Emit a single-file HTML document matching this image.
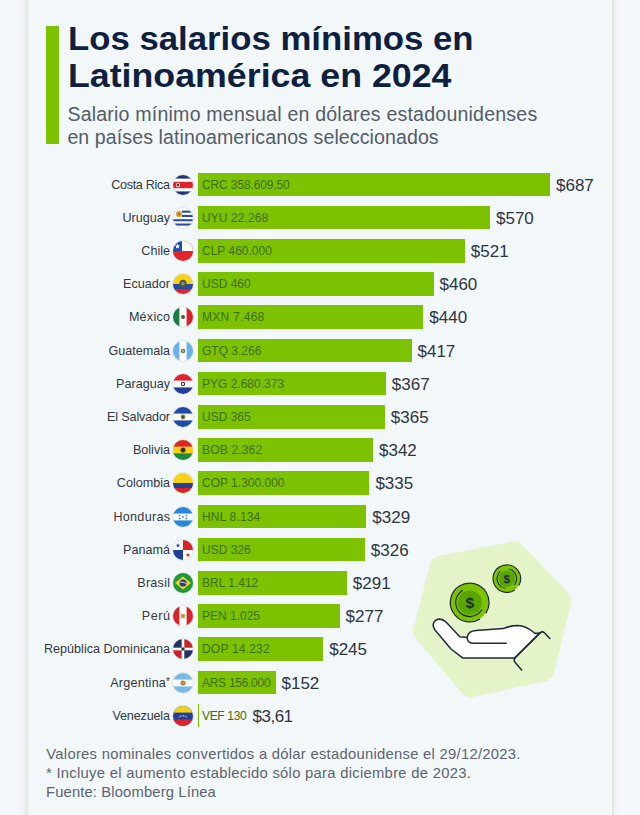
<!DOCTYPE html>
<html lang="es"><head><meta charset="utf-8"><title>Los salarios mínimos en Latinoamérica en 2024</title>
<style>
html,body{margin:0;padding:0}
body{width:640px;height:815px;overflow:hidden;position:relative;background:#f5f9fe;font-family:"Liberation Sans",sans-serif;color:#3a4048}
.card{position:absolute;left:28px;top:0;width:584px;height:815px;background:#f2f7fa}
.el{position:absolute;left:17px;top:0;width:11px;height:815px;background:linear-gradient(90deg,rgba(240,244,247,0) 0,#eef2f5 72%,#e2e7ea 82%,#e2e7ea 100%)}
.er{position:absolute;left:612px;top:0;width:9px;height:815px;background:linear-gradient(90deg,#e0e4e8 0,#e3e7ea 17%,#eef2f6 30%,rgba(245,249,254,0) 100%)}
.accent{position:absolute;left:46px;top:26px;width:13px;height:118px;background:#7cc200}
.t{position:absolute;left:68px;margin:0;font-size:33px;line-height:38px;height:38px;font-weight:700;color:#0f1f3f;white-space:nowrap;transform-origin:0 0}
.sub{position:absolute;margin:0;font-size:19.6px;line-height:22px;height:22px;color:#555c66;white-space:nowrap}
.lbl{position:absolute;right:470px;height:24px;line-height:25.6px;font-size:12.6px;white-space:nowrap;color:#33383f;text-align:right}
.lbl sup{font-size:10px;vertical-align:top;position:relative;top:-1px;line-height:24px}
.flag{position:absolute;left:173px;width:20px;height:20px;border-radius:50%;overflow:hidden;box-shadow:0 0 1.5px rgba(0,0,0,.35)}
.flag svg{display:block}
.bar{position:absolute;left:197.5px;height:23.7px;background:#7cc200}
.cur{position:absolute;left:202px;height:24px;line-height:25.8px;font-size:12px;color:#3c6e08;white-space:nowrap}
.val{position:absolute;height:24px;line-height:25.8px;font-size:17px;color:#2f353d;white-space:nowrap}
.foot{position:absolute;margin:0;font-size:14.8px;line-height:18px;height:18px;color:#5d646d;white-space:nowrap}
</style></head><body>
<div class="card"></div><div class="el"></div><div class="er"></div>
<div class="accent"></div>
<div class="t" id="t1" style="top:20.2px;transform:scaleX(1.053)">Los salarios mínimos en</div>
<div class="t" id="t2" style="top:57.3px;transform:scaleX(1.083)">Latinoamérica en 2024</div>
<div class="sub" style="left:67.4px;top:103.4px;letter-spacing:0.19px">Salario mínimo mensual en dólares estadounidenses</div>
<div class="sub" style="left:67.4px;top:126.1px;letter-spacing:0.08px">en países latinoamericanos seleccionados</div>

<div class="lbl" style="top:172.6px;letter-spacing:-0.311px;margin-right:0.311px">Costa Rica</div>
<div class="flag" style="top:174.6px"><svg width="20" height="20" viewBox="0 0 20 20"><rect width="20" height="20" fill="#fff"/><rect width="20" height="3.6" fill="#1c3578"/><rect y="16.4" width="20" height="3.6" fill="#1c3578"/><rect y="6.8" width="20" height="6.4" fill="#e0242b"/><ellipse cx="5" cy="10" rx="2.1" ry="2.3" fill="#fff"/><circle cx="5" cy="10" r="1.4" fill="#3a3a3a"/></svg></div>
<div class="bar" style="top:172.6px;width:352.5px"></div>
<div class="cur" style="top:172.6px;letter-spacing:-0.123px">CRC 358.609,50</div>
<div class="val" style="top:172.6px;left:556.0px;letter-spacing:0.000px">$687</div>
<div class="lbl" style="top:205.8px;letter-spacing:0.000px;margin-right:0.000px">Uruguay</div>
<div class="flag" style="top:207.8px"><svg width="20" height="20" viewBox="0 0 20 20"><rect width="20" height="20" fill="#fff"/><rect x="9" y="2.6" width="11" height="2.1" fill="#2a4aa0"/><rect x="9" y="6.9" width="11" height="2.1" fill="#2a4aa0"/><rect y="11.2" width="20" height="2.1" fill="#2a4aa0"/><rect y="15.5" width="20" height="2.1" fill="#2a4aa0"/><circle cx="6" cy="6" r="3.2" fill="#e0b040"/><circle cx="6" cy="6" r="1.8" fill="#b07a20"/></svg></div>
<div class="bar" style="top:205.8px;width:292.5px"></div>
<div class="cur" style="top:205.8px;letter-spacing:0.089px">UYU 22.268</div>
<div class="val" style="top:205.8px;left:496.0px;letter-spacing:0.000px">$570</div>
<div class="lbl" style="top:239.0px;letter-spacing:0.000px;margin-right:0.000px">Chile</div>
<div class="flag" style="top:241.0px"><svg width="20" height="20" viewBox="0 0 20 20"><rect width="20" height="20" fill="#e0242b"/><rect width="20" height="10" fill="#fff"/><rect width="9" height="10" fill="#1f4aa8"/><path d="M4.5 2.6l.8 1.9h2l-1.6 1.3.6 2-1.8-1.2-1.8 1.2.6-2L1.7 4.5h2z" fill="#fff"/></svg></div>
<div class="bar" style="top:239.0px;width:267.3px"></div>
<div class="cur" style="top:239.0px;letter-spacing:0.000px">CLP 460.000</div>
<div class="val" style="top:239.0px;left:470.8px;letter-spacing:0.000px">$521</div>
<div class="lbl" style="top:272.2px;letter-spacing:0.000px;margin-right:0.000px">Ecuador</div>
<div class="flag" style="top:274.2px"><svg width="20" height="20" viewBox="0 0 20 20"><rect width="20" height="20" fill="#f7d117"/><rect y="10" width="20" height="5" fill="#1f4aa8"/><rect y="15" width="20" height="5" fill="#e0242b"/><ellipse cx="10" cy="9.4" rx="3.6" ry="3.6" fill="#5c5a2c"/><ellipse cx="10" cy="9.6" rx="1.5" ry="1.7" fill="#6f9bb0"/></svg></div>
<div class="bar" style="top:272.2px;width:236.0px"></div>
<div class="cur" style="top:272.2px;letter-spacing:0.000px">USD 460</div>
<div class="val" style="top:272.2px;left:439.5px;letter-spacing:0.000px">$460</div>
<div class="lbl" style="top:305.4px;letter-spacing:0.240px;margin-right:-0.240px">México</div>
<div class="flag" style="top:307.4px"><svg width="20" height="20" viewBox="0 0 20 20"><rect width="20" height="20" fill="#fff"/><rect width="6.4" height="20" fill="#1b7a43"/><rect x="13.6" width="6.4" height="20" fill="#d8232a"/><circle cx="10" cy="10" r="2" fill="#6e4e2e"/></svg></div>
<div class="bar" style="top:305.4px;width:225.8px"></div>
<div class="cur" style="top:305.4px;letter-spacing:0.280px">MXN 7.468</div>
<div class="val" style="top:305.4px;left:429.3px;letter-spacing:0.000px">$440</div>
<div class="lbl" style="top:338.6px;letter-spacing:0.000px;margin-right:0.000px">Guatemala</div>
<div class="flag" style="top:340.6px"><svg width="20" height="20" viewBox="0 0 20 20"><rect width="20" height="20" fill="#fff"/><rect width="6.4" height="20" fill="#6bb0e6"/><rect x="13.6" width="6.4" height="20" fill="#6bb0e6"/><circle cx="10" cy="10" r="2.3" fill="#6a7a4a"/><circle cx="10" cy="10" r="1" fill="#c8c090"/></svg></div>
<div class="bar" style="top:338.6px;width:214.0px"></div>
<div class="cur" style="top:338.6px;letter-spacing:0.000px">GTQ 3.266</div>
<div class="val" style="top:338.6px;left:417.5px;letter-spacing:0.000px">$417</div>
<div class="lbl" style="top:371.8px;letter-spacing:0.000px;margin-right:0.000px">Paraguay</div>
<div class="flag" style="top:373.8px"><svg width="20" height="20" viewBox="0 0 20 20"><rect width="20" height="20" fill="#fff"/><rect width="20" height="6.6" fill="#e0242b"/><rect y="13.4" width="20" height="6.6" fill="#1f3f98"/><circle cx="10" cy="10" r="2.2" fill="#333"/><circle cx="10" cy="10" r="1.2" fill="#e8e0a0"/></svg></div>
<div class="bar" style="top:371.8px;width:188.3px"></div>
<div class="cur" style="top:371.8px;letter-spacing:0.000px">PYG 2.680.373</div>
<div class="val" style="top:371.8px;left:391.8px;letter-spacing:0.000px">$367</div>
<div class="lbl" style="top:405.0px;letter-spacing:-0.140px;margin-right:0.140px">El Salvador</div>
<div class="flag" style="top:407.0px"><svg width="20" height="20" viewBox="0 0 20 20"><rect width="20" height="20" fill="#fff"/><rect width="20" height="6.6" fill="#1f4aa8"/><rect y="13.4" width="20" height="6.6" fill="#1f4aa8"/><circle cx="10" cy="10" r="2.4" fill="#8a8040"/><circle cx="10" cy="10" r="1.2" fill="#3a4a3a"/></svg></div>
<div class="bar" style="top:405.0px;width:187.3px"></div>
<div class="cur" style="top:405.0px;letter-spacing:0.000px">USD 365</div>
<div class="val" style="top:405.0px;left:390.8px;letter-spacing:0.000px">$365</div>
<div class="lbl" style="top:438.2px;letter-spacing:0.000px;margin-right:0.000px">Bolivia</div>
<div class="flag" style="top:440.2px"><svg width="20" height="20" viewBox="0 0 20 20"><rect width="20" height="20" fill="#f7d117"/><rect width="20" height="6.6" fill="#e0242b"/><rect y="13.4" width="20" height="6.6" fill="#1b8a3a"/><circle cx="10" cy="10" r="2.6" fill="#4a3a1a"/><circle cx="10" cy="10" r="1.2" fill="#2a2a1a"/></svg></div>
<div class="bar" style="top:438.2px;width:175.5px"></div>
<div class="cur" style="top:438.2px;letter-spacing:0.180px">BOB 2.362</div>
<div class="val" style="top:438.2px;left:379.0px;letter-spacing:0.000px">$342</div>
<div class="lbl" style="top:471.4px;letter-spacing:0.000px;margin-right:0.000px">Colombia</div>
<div class="flag" style="top:473.4px"><svg width="20" height="20" viewBox="0 0 20 20"><rect width="20" height="20" fill="#f7d117"/><rect y="10" width="20" height="5" fill="#1f3f98"/><rect y="15" width="20" height="5" fill="#d8232a"/></svg></div>
<div class="bar" style="top:471.4px;width:171.9px"></div>
<div class="cur" style="top:471.4px;letter-spacing:0.000px">COP 1.300.000</div>
<div class="val" style="top:471.4px;left:375.4px;letter-spacing:0.000px">$335</div>
<div class="lbl" style="top:504.6px;letter-spacing:0.286px;margin-right:-0.286px">Honduras</div>
<div class="flag" style="top:506.6px"><svg width="20" height="20" viewBox="0 0 20 20"><rect width="20" height="20" fill="#fff"/><rect width="20" height="6.6" fill="#2a86d8"/><rect y="13.4" width="20" height="6.6" fill="#2a86d8"/><g fill="#2a86d8"><circle cx="10" cy="10" r=".9"/><circle cx="6.6" cy="8.6" r=".9"/><circle cx="13.4" cy="8.6" r=".9"/><circle cx="6.6" cy="11.6" r=".9"/><circle cx="13.4" cy="11.6" r=".9"/></g></svg></div>
<div class="bar" style="top:504.6px;width:168.8px"></div>
<div class="cur" style="top:504.6px;letter-spacing:0.170px">HNL 8.134</div>
<div class="val" style="top:504.6px;left:372.3px;letter-spacing:0.000px">$329</div>
<div class="lbl" style="top:537.8px;letter-spacing:0.000px;margin-right:0.000px">Panamá</div>
<div class="flag" style="top:539.8px"><svg width="20" height="20" viewBox="0 0 20 20"><rect width="20" height="20" fill="#fff"/><rect x="10" width="10" height="10" fill="#d8232a"/><rect y="10" width="10" height="10" fill="#1f3f98"/><path d="M5 3.2l.6 1.6h1.7l-1.4 1 .5 1.7L5 6.5l-1.4 1 .5-1.7-1.4-1h1.7z" fill="#1f3f98"/><path d="M15 12.6l.6 1.6h1.7l-1.4 1 .5 1.7-1.4-1-1.4 1 .5-1.7-1.4-1h1.7z" fill="#d8232a"/></svg></div>
<div class="bar" style="top:537.8px;width:167.3px"></div>
<div class="cur" style="top:537.8px;letter-spacing:0.000px">USD 326</div>
<div class="val" style="top:537.8px;left:370.8px;letter-spacing:0.000px">$326</div>
<div class="lbl" style="top:571.0px;letter-spacing:0.240px;margin-right:-0.240px">Brasil</div>
<div class="flag" style="top:573.0px"><svg width="20" height="20" viewBox="0 0 20 20"><rect width="20" height="20" fill="#1f9a3a"/><path d="M10 3.4L18 10l-8 6.6L2 10z" fill="#f7d117"/><circle cx="10" cy="10" r="3.5" fill="#1f3f98"/><path d="M6.6 9.2c2.4-.5 4.8.2 6.8 1.6" stroke="#fff" stroke-width=".8" fill="none"/></svg></div>
<div class="bar" style="top:571.0px;width:149.3px"></div>
<div class="cur" style="top:571.0px;letter-spacing:0.000px">BRL 1.412</div>
<div class="val" style="top:571.0px;left:352.8px;letter-spacing:0.000px">$291</div>
<div class="lbl" style="top:604.2px;letter-spacing:0.533px;margin-right:-0.533px">Perú</div>
<div class="flag" style="top:606.2px"><svg width="20" height="20" viewBox="0 0 20 20"><rect width="20" height="20" fill="#fff"/><rect width="6.4" height="20" fill="#d8232a"/><rect x="13.6" width="6.4" height="20" fill="#d8232a"/><circle cx="10" cy="10" r="2.6" fill="#c8b86a"/><circle cx="10" cy="10" r="1.3" fill="#8a9a4a"/></svg></div>
<div class="bar" style="top:604.2px;width:142.1px"></div>
<div class="cur" style="top:604.2px;letter-spacing:0.000px">PEN 1.025</div>
<div class="val" style="top:604.2px;left:345.6px;letter-spacing:0.000px">$277</div>
<div class="lbl" style="top:637.4px;letter-spacing:0.000px;margin-right:0.000px">República Dominicana</div>
<div class="flag" style="top:639.4px"><svg width="20" height="20" viewBox="0 0 20 20"><rect width="20" height="20" fill="#fff"/><rect width="8.7" height="8.7" fill="#1f3560"/><rect x="11.3" width="8.7" height="8.7" fill="#c8232a"/><rect y="11.3" width="8.7" height="8.7" fill="#c8232a"/><rect x="11.3" y="11.3" width="8.7" height="8.7" fill="#1f3560"/><circle cx="10" cy="10" r="1.7" fill="#2a3a2a"/></svg></div>
<div class="bar" style="top:637.4px;width:125.7px"></div>
<div class="cur" style="top:637.4px;letter-spacing:0.196px">DOP 14.232</div>
<div class="val" style="top:637.4px;left:329.2px;letter-spacing:0.000px">$245</div>
<div class="lbl" style="top:670.6px;letter-spacing:0.222px;margin-right:-0.222px">Argentina<sup>*</sup></div>
<div class="flag" style="top:672.6px"><svg width="20" height="20" viewBox="0 0 20 20"><rect width="20" height="20" fill="#fff"/><rect width="20" height="6.6" fill="#7ab8e8"/><rect y="13.4" width="20" height="6.6" fill="#7ab8e8"/><circle cx="10" cy="10" r="2.5" fill="#a87838"/><circle cx="10" cy="10" r="1.3" fill="#d89838"/></svg></div>
<div class="bar" style="top:670.6px;width:78.0px"></div>
<div class="cur" style="top:670.6px;letter-spacing:-0.280px">ARS 156.000</div>
<div class="val" style="top:670.6px;left:281.5px;letter-spacing:0.000px">$152</div>
<div class="lbl" style="top:703.8px;letter-spacing:-0.150px;margin-right:0.150px">Venezuela</div>
<div class="flag" style="top:705.8px"><svg width="20" height="20" viewBox="0 0 20 20"><rect width="20" height="20" fill="#1f3f98"/><rect width="20" height="6.6" fill="#f7d117"/><rect y="13.4" width="20" height="6.6" fill="#d8232a"/><path d="M5.6 11.6c2.4-2.4 6.4-2.4 8.8 0" stroke="#fff" stroke-width="1" stroke-dasharray=".9 .7" fill="none"/></svg></div>
<div class="bar" style="top:703.8px;width:1.9px"></div>
<div class="cur" style="top:703.8px;letter-spacing:-0.333px">VEF 130</div>
<div class="val" style="top:703.8px;left:252.5px;letter-spacing:-0.500px">$3,61</div>

<svg style="position:absolute;left:400px;top:535px" width="190" height="175" viewBox="400 535 190 175">
<polygon points="440.8,566.8 514.0,552.4 560.3,600.7 543.3,670.5 470.3,686.2 424.2,631.3" fill="#e4f3c8" stroke="#e4f3c8" stroke-width="22" stroke-linejoin="round"/>
<g fill="#fff" stroke="#1d2b3f" stroke-width="1.5" stroke-linejoin="round" stroke-linecap="round">
<path d="M459.8 636.8 L446 622 Q441 617.3 435.6 620.3 Q431.3 623.6 434.6 629.4 L451 649 L462.6 657.9 L514.7 657.9 L540 632.9 L535 633.4 Q526 625.6 517.5 625.5 Q510 625.6 503.4 628.6 L476 630.6 Q468 631 467.2 637.4 Z"/>
<path d="M467.2 637.4 Q467.2 643.3 473.5 643.3 L506.2 643.3" fill="none"/>
<path d="M514.7 658.2 L540 632.9 Q542.4 630.8 544.6 633 L549.8 638.5" fill="none"/>
<path d="M514.7 658.2 Q513.4 660.6 515.2 662.6 L521.7 670" fill="none"/>
</g>
<circle cx="469.7" cy="602.5" r="19" fill="#7cc200"/>
<circle cx="469.7" cy="602.5" r="19.4" fill="none" stroke="#1d2b3f" stroke-width="1.3" stroke-dasharray="113 8.9" transform="rotate(58 469.7 602.5)"/>
<circle cx="469.7" cy="602.5" r="12" fill="#58a500"/>
<circle cx="469.7" cy="602.5" r="14" fill="none" stroke="#1d2b3f" stroke-width="1.2" stroke-dasharray="51 37" transform="rotate(30 469.7 602.5)"/>
<text x="469.7" y="608.2" font-family="Liberation Sans, sans-serif" font-weight="700" font-size="15.5" text-anchor="middle" fill="#1d2b3f">$</text>
<circle cx="506.8" cy="578.6" r="13.5" fill="#7cc200"/>
<circle cx="506.8" cy="578.6" r="13.8" fill="none" stroke="#1d2b3f" stroke-width="1.2" stroke-dasharray="80 6.7" transform="rotate(55 506.8 578.6)"/>
<circle cx="506.8" cy="578.6" r="8.2" fill="#58a500"/>
<circle cx="506.8" cy="578.6" r="9.8" fill="none" stroke="#1d2b3f" stroke-width="1.1" stroke-dasharray="22 9 20 10.6" transform="rotate(100 506.8 578.6)"/>
<text x="506.8" y="582.8" font-family="Liberation Sans, sans-serif" font-weight="700" font-size="11.5" text-anchor="middle" fill="#1d2b3f">$</text>
</svg>
<div class="foot" style="left:46.3px;top:745.4px;letter-spacing:0.27px">Valores nominales convertidos a dólar estadounidense el 29/12/2023.</div>
<div class="foot" style="left:46px;top:763.7px;letter-spacing:0.28px">* Incluye el aumento establecido sólo para diciembre de 2023.</div>
<div class="foot" style="left:46px;top:782.8px;letter-spacing:0.13px">Fuente: Bloomberg Línea</div>
</body></html>
